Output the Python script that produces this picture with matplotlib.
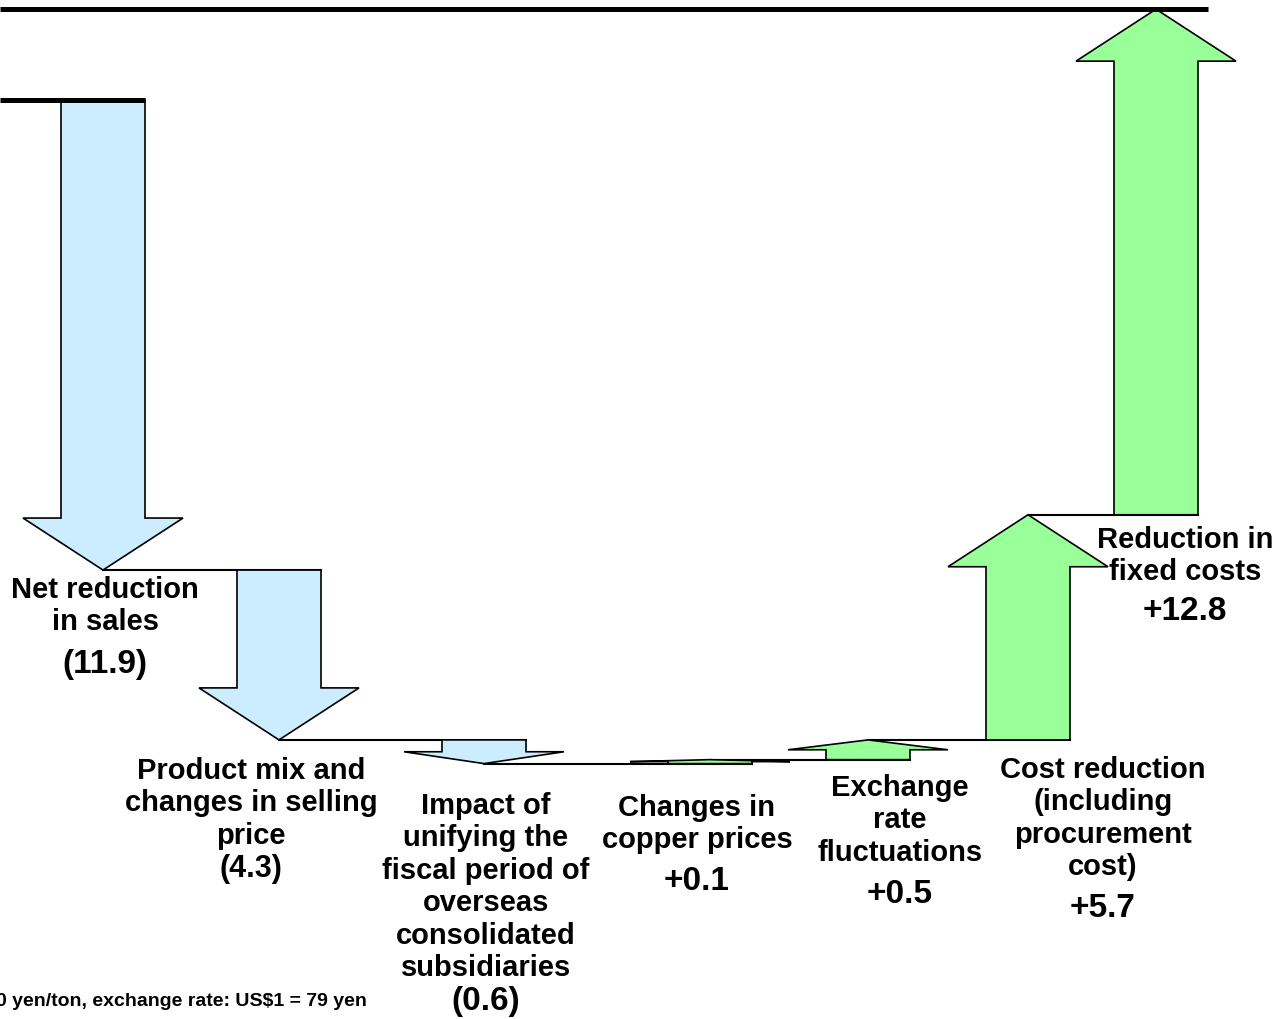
import numpy as np
import matplotlib.pyplot as plt
from matplotlib.patches import Polygon

plt.rcParams['font.family'] = ['Liberation Sans', 'DejaVu Sans']
plt.rcParams['font.weight'] = 'bold'

# data
labels = [
    "Net reduction\nin sales",
    "Product mix and\nchanges in selling\nprice",
    "Impact of\nunifying the\nfiscal period of\noverseas\nconsolidated\nsubsidiaries",
    "Changes in\ncopper prices",
    "Exchange\nrate\nfluctuations",
    "Cost reduction\n(including\nprocurement\ncost)",
    "Reduction in\nfixed costs",
]
changes = [-11.9, -4.3, -0.6, 0.1, 0.5, 5.7, 12.8]
value_texts = ["(11.9)", "(4.3)", "(0.6)", "+0.1", "+0.5", "+5.7", "+12.8"]
footnote = "0 yen/ton, exchange rate: US$1 = 79 yen"
start_level = 0.0

# layout (pixels)
W, H = 1276, 1019
px_per_unit = 39.5
start_px = 100
slot_x = [103, 279, 484, 710, 868, 1028, 1156]
label_x = [105, 251, 486, 697, 900, 1103, 1185]
label_top = [576, 757, 792, 794, 774, 756, 526]
value_base = [673, 877, 1010, 890, 903, 917, 620]
value_size = [24, 22, 24, 24, 24, 24, 24]

shaft_hw = 42
head_hw = 80
head_len = 52 / px_per_unit

blue = '#CCECFF'
green = '#99FF99'

fig = plt.figure(figsize=(W / 100, H / 100), dpi=100)
ax = fig.add_axes([0, 0, 1, 1])
ax.set_xlim(0, W)
ax.set_ylim(start_level - (H - start_px) / px_per_unit,
            start_level + start_px / px_per_unit)
ax.axis('off')


def to_val(y_px):
    return start_level + (start_px - y_px) / px_per_unit


levels = start_level + np.concatenate([[0], np.cumsum(changes)])

# arrows
for i, d in enumerate(changes):
    y0, y1 = levels[i], levels[i + 1]
    cx = slot_x[i]
    s = np.sign(d)
    hl = min(head_len, 0.5 * abs(d))
    yb = y1 - s * hl
    pts = [(cx - shaft_hw, y0), (cx + shaft_hw, y0), (cx + shaft_hw, yb),
           (cx + head_hw, yb), (cx, y1), (cx - head_hw, yb), (cx - shaft_hw, yb)]
    ax.add_patch(Polygon(pts, closed=True, fc=blue if d < 0 else green,
                         ec='black', lw=1.2, joinstyle='miter', zorder=3))

# connector lines
for i in range(len(changes) - 1):
    ax.plot([slot_x[i], slot_x[i + 1] + shaft_hw], [levels[i + 1]] * 2,
            color='black', lw=1.5, zorder=2)
ax.plot([0, slot_x[0] + shaft_hw], [levels[0]] * 2, color='black', lw=3.6,
        solid_capstyle='butt', zorder=4)
ax.plot([0, slot_x[-1] + 52], [levels[-1]] * 2, color='black', lw=3.6,
        solid_capstyle='butt', zorder=4)

# texts
for i in range(len(changes)):
    ax.text(label_x[i], to_val(label_top[i]), labels[i], ha='center', va='top',
            fontsize=21, fontweight='bold', linespacing=1.2)
    ax.text(label_x[i], to_val(value_base[i]), value_texts[i], ha='center',
            va='baseline', fontsize=value_size[i], fontweight='bold')

ax.text(367, to_val(1006), footnote, ha='right', va='baseline', fontsize=14,
        fontweight='bold')

fig.savefig('out.png', dpi=100)
